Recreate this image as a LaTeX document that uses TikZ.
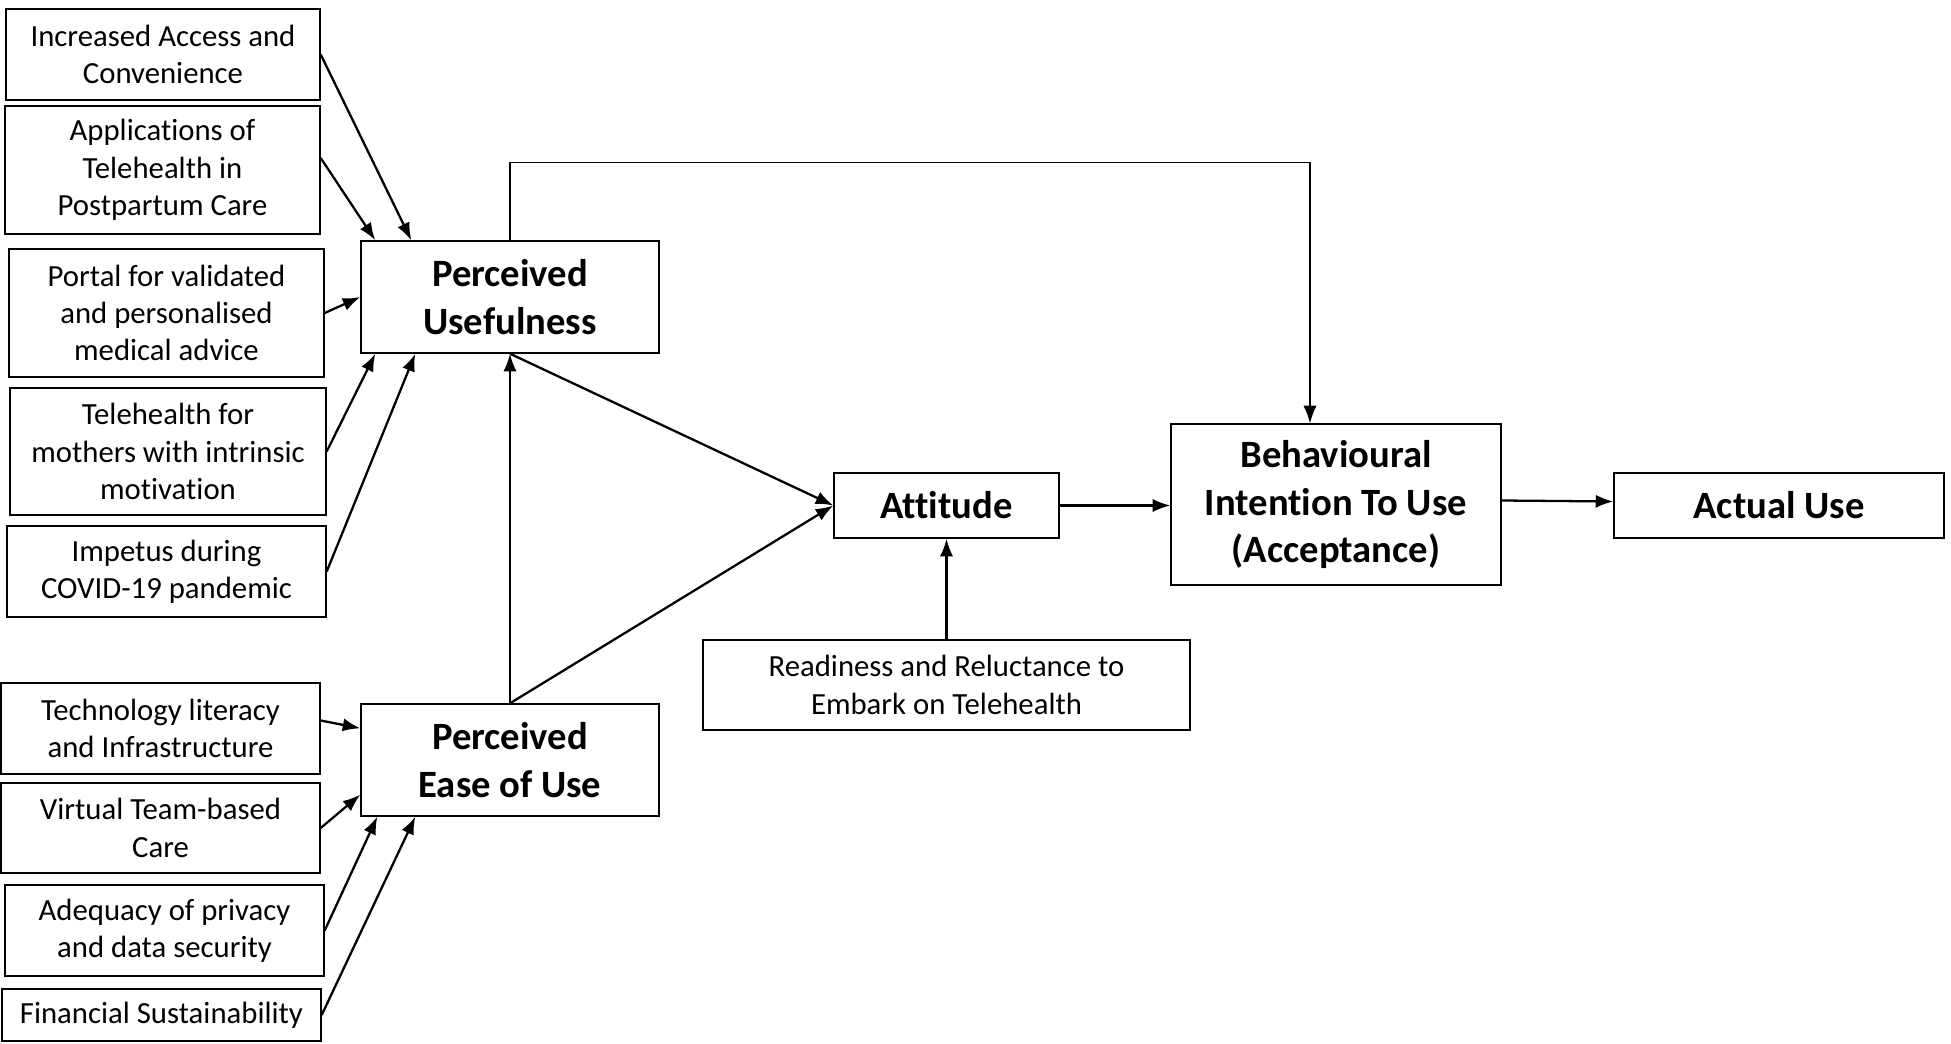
\documentclass[tikz,border=0pt]{standalone}
\usepackage{fontspec}
\setmainfont{Carlito}[Ligatures={NoCommon}]
\usetikzlibrary{arrows.meta,calc,positioning}
\tikzset{
	factor/.style={draw,thick,align=center,inner sep=2pt,font=\fontsize{17.5}{21.2}\selectfont},
	construct/.style={draw,thick,align=center,inner sep=2pt,font=\fontsize{22}{27}\selectfont\bfseries},
	diredge/.style={-{Latex[width=7.5pt,length=10pt]},color=black,line width=1.3pt},
	linkedge/.style={-{Latex[width=7.5pt,length=10pt]},color=black,line width=0.8pt}
}
\begin{document}
\begin{tikzpicture}[x=0.02cm,y=-0.02cm]
		% one unit = one pixel of the reference, y runs downwards
		\useasboundingbox (0,0) rectangle (1951,1044);
		\def\bw{319}
		
		% factors of perceived usefulness
		\node[factor,minimum width=314*0.02cm,minimum height=91*0.02cm] (acc) at (163,54.5) {Increased Access and\\Convenience};
		\node[factor,minimum width=315*0.02cm,minimum height=128*0.02cm] (app) at (162.5,170) {Applications of\\Telehealth in\\Postpartum Care};
		\node[factor,minimum width=315*0.02cm,minimum height=128*0.02cm] (portal) at (166.5,313) {Portal for validated\\and personalised\\medical advice};
		\node[factor,minimum width=316*0.02cm,minimum height=127*0.02cm] (moth) at (168,451.5) {Telehealth for\\mothers with intrinsic\\motivation};
		\node[factor,minimum width=\bw*0.02cm,minimum height=91*0.02cm] (imp) at (166.5,571.5) {Impetus during\\COVID-19 pandemic};
		
		% factors of perceived ease of use
		\node[factor,minimum width=\bw*0.02cm,minimum height=91*0.02cm] (tech) at (160.5,728.5) {Technology literacy\\and Infrastructure};
		\node[factor,minimum width=\bw*0.02cm,minimum height=90*0.02cm] (virt) at (160.5,828) {Virtual Team-based\\Care};
		\node[factor,minimum width=\bw*0.02cm,minimum height=91*0.02cm] (adeq) at (164.5,930.5) {Adequacy of privacy\\and data security};
		\node[factor,minimum width=\bw*0.02cm,minimum height=52*0.02cm] (fin) at (161.5,1015) {Financial Sustainability};
		
		% model
		\node[construct,minimum width=298*0.02cm,minimum height=112*0.02cm] (pu) at (510,297) {Perceived\\Usefulness};
		\node[construct,minimum width=298*0.02cm,minimum height=112*0.02cm] (peou) at (510,760) {Perceived\\Ease of Use};
		\node[construct,minimum width=225*0.02cm,minimum height=65*0.02cm] (att) at (946.5,505.5) {Attitude};
		\node[factor,minimum width=487*0.02cm,minimum height=90*0.02cm] (ready) at (946.5,685) {Readiness and Reluctance to\\Embark on Telehealth};
		\node[construct,minimum width=330*0.02cm,minimum height=161*0.02cm] (bi) at (1336,504.5) {Behavioural\\Intention To Use\\(Acceptance)};
		\node[construct,minimum width=330*0.02cm,minimum height=65*0.02cm] (act) at (1779,505.5) {Actual Use};
		
		\draw[diredge] (acc.east) -- ($(pu.north west)+(51,0)$);
		\draw[diredge] ($(app.east)+(0,-12)$) -- ($(pu.north west)+(15,0)$);
		\draw[diredge] (portal.east) -- (pu.west);
		\draw[diredge] (moth.east) -- ($(pu.south west)+(15,0)$);
		\draw[diredge] (imp.east) -- ($(pu.south west)+(55,0)$);
		
		\draw[diredge] ($(tech.east)+(0,-8)$) -- ($(peou.north west)+(0,25)$);
		\draw[diredge] (virt.east) -- ($(peou.south west)+(0,-22)$);
		\draw[diredge] (adeq.east) -- ($(peou.south west)+(17,0)$);
		\draw[diredge] (fin.east) -- ($(peou.south west)+(55,0)$);
		
		\draw[diredge] (peou.north) -- (pu.south);
		\draw[diredge] (pu.south) -- (att.west);
		\draw[diredge] (peou.north) -- (att.west);
		\draw[diredge] (ready.north) -- (att.south);
		\draw[diredge] (att.east) -- (att.east -| bi.west);
		\draw[diredge] ($(bi.east)+(0,-4)$) -- ($(act.west)+(0,-4)$);
		
		\coordinate (bitop) at ($(bi.north)+(-26,0)$);
		\draw[linkedge] (pu.north) -- ++(0,-78) -| (bitop);
		
	\end{tikzpicture}
\end{document}
